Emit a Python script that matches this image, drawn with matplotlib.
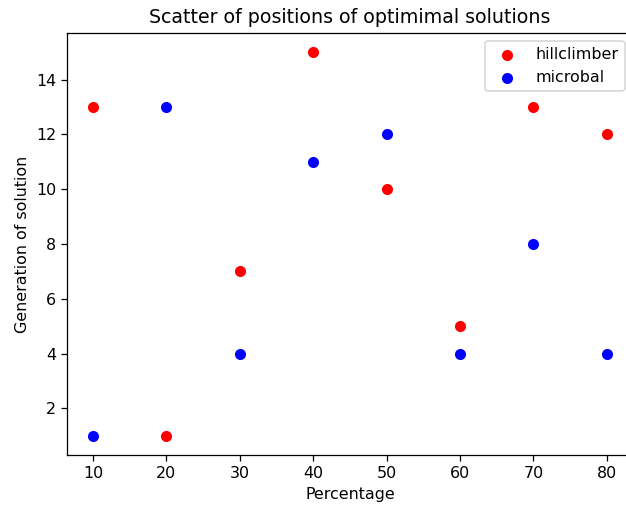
import matplotlib
matplotlib.use("Agg")
import matplotlib.pyplot as plt

percentage = [10, 20, 30, 40, 50, 60, 70, 80]
hillclimber = [13, 1, 7, 15, 10, 5, 13, 12]
microbal = [1, 13, 4, 11, 12, 4, 8, 4]

# reference looks like a default figure rendered a bit larger and cropped on the right
fig = plt.figure(figsize=(626 / 114, 506 / 114), dpi=114)
ax = fig.add_axes([0.1075, 0.1008, 0.903, 0.834])

ax.scatter(percentage, hillclimber, c="red", label="hillclimber")
ax.scatter(percentage, microbal, c="blue", label="microbal")

ax.set_title("Scatter of positions of optimimal solutions")
ax.set_xlabel("Percentage")
ax.set_ylabel("Generation of solution")
ax.legend(loc="upper right")

fig.savefig("out.png", dpi=114)
